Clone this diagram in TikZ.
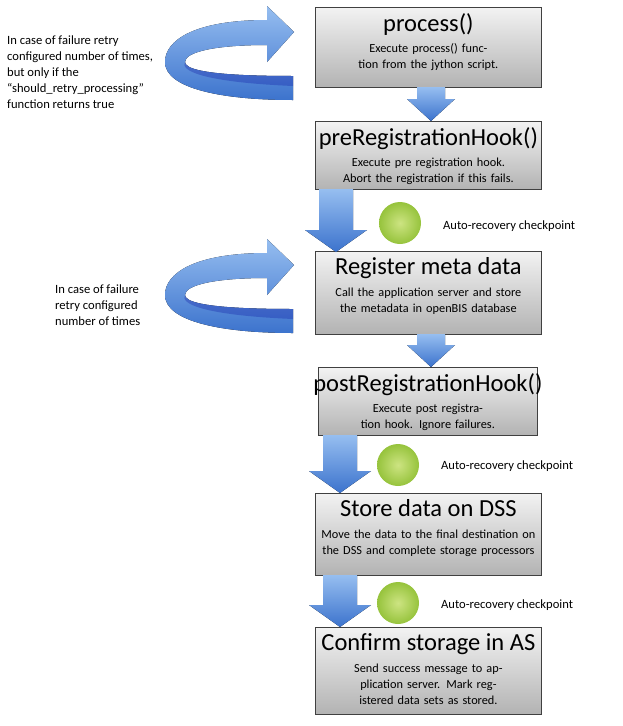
\documentclass[tikz,border=0pt]{standalone}
\usepackage{fontspec}
\setmainfont{Carlito}
\usetikzlibrary{positioning,calc}
\tikzset{x=1pt,y=-1pt,
 box/.style={draw=black!75,line width=0.8pt,top color=black!5,bottom color=black!30,rectangle,inner sep=0pt},
 ttl/.style={font=\fontsize{24.5}{26}\selectfont,anchor=north},
 dsc/.style={font=\fontsize{12.3}{16}\selectfont,align=center,anchor=north,text width=218pt},
 side/.style={font=\fontsize{12.6}{16}\selectfont,align=left,anchor=north west,inner sep=0pt},
 barr/.style={top color={rgb,255:red,150;green,190;blue,240},bottom color={rgb,255:red,60;green,115;blue,205},draw=none},
 grn/.style={circle,minimum size=42pt,inner sep=0pt,draw=none,inner color={rgb,255:red,205;green,228;blue,130},outer color={rgb,255:red,150;green,195;blue,60}},
 chk/.style={font=\fontsize{12.6}{14}\selectfont,anchor=west,inner sep=0pt}}
\newcommand{\mybox}[7]{% name x1 y1 x2 y2 title desc
 \node[box,minimum width=#4-#2,minimum height=#5-#3,anchor=north west] (#1) at (#2,#3) {};
 \node[ttl] at ($(#1.north)+(0,3)$) {#6};
 \node[dsc] at ($(#1.north)+(0,33)$) {\hyphenpenalty=10000 #7};}
\newcommand{\darr}[5]{% cx ytop ybot shaftw headw
 \fill[barr] (#1-#4/2,#2) -- (#1+#4/2,#2) -- (#1+#4/2,#3-22) -- (#1+#5/2,#3-22) -- (#1,#3) -- (#1-#5/2,#3-22) -- (#1-#4/2,#3-22) -- cycle;}
\newcommand{\uarr}[1]{% vertical offset
 \begin{scope}[shift={(0,#1)}]
 \fill[barr] (293,76) .. controls (200,76) and (185,68) .. (185,62) .. controls (185,52) and (215,45) .. (267,45)
   -- (267,62) -- (294,32) -- (267,6) -- (267,20) .. controls (195,20) and (165,40) .. (165,62)
   .. controls (165,88) and (220,100) .. (293,100) -- cycle;
 \fill[black!40!blue,opacity=0.25] (293,76) .. controls (200,76) and (185,68) .. (185,62) .. controls (180,70) and (200,82) .. (293,86) -- cycle;
 \end{scope}}
\begin{document}
\begin{tikzpicture}
\useasboundingbox (0,0) rectangle (622,726);
\uarr{0}
\uarr{233}
\node[side] (t1) at (7,36) {In case of failure retry\\configured number of times,\\but only if the\\“should\_retry\_processing”\\function returns true};
\node[side] (t2) at (55,285) {In case of failure\\retry configured\\number of times};
\mybox{b1}{315}{7}{541}{87}{process()}{Execute process() function from the jython script.}
\mybox{b2}{315}{121}{541}{189}{preRegistrationHook()}{Execute pre registration hook. Abort the registration if this fails.}
\mybox{b3}{315}{251}{541}{334}{Register meta data}{Call the application server and store the metadata in openBIS database}
\mybox{b4}{318}{367}{537}{435}{postRegistrationHook()}{Execute post registration hook. Ignore failures.}
\mybox{b5}{315}{493}{541}{575}{Store data on DSS}{Move the data to the final destination on the DSS and complete storage processors}
\mybox{b6}{315}{627}{541}{714}{Confirm storage in AS}{Send success message to application server. Mark registered data sets as stored.}
\darr{431}{87}{121}{28}{48}
\darr{336}{189}{252}{34}{62}
\darr{431}{334}{367}{28}{48}
\darr{340}{435}{493}{34}{62}
\darr{340}{575}{627}{34}{62}
\node[grn] (c1) at (400,223) {};
\node[grn] (c2) at (398,465) {};
\node[grn] (c3) at (398,603) {};
\node[chk] (l1) at (443,226) {Auto-recovery checkpoint};
\node[chk] (l2) at (441,466) {Auto-recovery checkpoint};
\node[chk] (l3) at (441,605) {Auto-recovery checkpoint};
\end{tikzpicture}
\end{document}
